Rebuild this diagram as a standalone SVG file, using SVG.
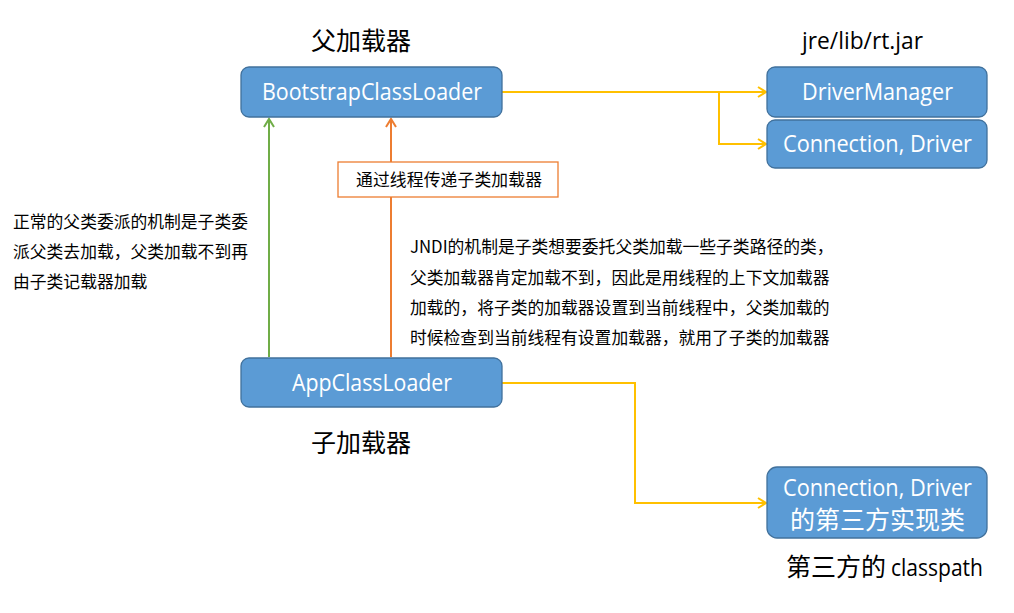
<svg xmlns="http://www.w3.org/2000/svg" width="1014" height="613" viewBox="0 0 1014 613">
<defs>
<style>
.box{fill:#5B9BD5;stroke:#41719C;stroke-width:1.3}
.bt{fill:#fff;font-family:"Open Sans","Noto Sans CJK SC",sans-serif;font-size:23px}
.bc{fill:#fff;font-family:"Noto Sans CJK SC",sans-serif;font-size:25px}
.t{fill:#000;font-family:"Noto Sans CJK SC",sans-serif;font-size:16.8px}
.h{fill:#000;font-family:"Noto Sans CJK SC",sans-serif;font-size:25px}
.hl{fill:#000;font-family:"Open Sans",sans-serif;font-size:23px}
.y{fill:none;stroke:#FFC000;stroke-width:2}
.g{fill:none;stroke:#70AD47;stroke-width:2}
.o{fill:none;stroke:#ED7D31;stroke-width:2}
</style>
<marker id="ay" markerWidth="12" markerHeight="12" refX="10" refY="6" orient="auto" markerUnits="userSpaceOnUse"><path d="M2,1 L10,6 L2,11" fill="none" stroke="#FFC000" stroke-width="2"/></marker>
<marker id="ag" markerWidth="12" markerHeight="12" refX="10" refY="6" orient="auto" markerUnits="userSpaceOnUse"><path d="M2,1 L10,6 L2,11" fill="none" stroke="#70AD47" stroke-width="2"/></marker>
<marker id="ao" markerWidth="12" markerHeight="12" refX="10" refY="6" orient="auto" markerUnits="userSpaceOnUse"><path d="M2,1 L10,6 L2,11" fill="none" stroke="#ED7D31" stroke-width="2"/></marker>
</defs>
<rect width="1014" height="613" fill="#fff"/>
<g id="connectors">
<path class="y" d="M502,92 H766" marker-end="url(#ay)"/>
<path class="y" d="M719,92 V144 H766" marker-end="url(#ay)"/>
<path class="y" d="M502,383 H635 V503 H766" marker-end="url(#ay)"/>
<path class="g" d="M269,357 V119" marker-end="url(#ag)"/>
<path class="o" d="M391,357 V119" marker-end="url(#ao)"/>
</g>
<g id="label-thread">
<rect x="338" y="162" width="220" height="35" fill="#fff" stroke="#ED7D31" stroke-width="1.3"/>
<text class="t" x="356" y="186" textLength="186">通过线程传递子类加载器</text>
</g>
<g id="bootstrap">
<rect class="box" x="241" y="67" width="261" height="50" rx="8"/>
<text class="bt" x="262" y="100" textLength="220" lengthAdjust="spacingAndGlyphs">BootstrapClassLoader</text>
</g>
<g id="drivermanager">
<rect class="box" x="767" y="67" width="220" height="50" rx="8"/>
<text class="bt" x="802" y="100" textLength="151" lengthAdjust="spacingAndGlyphs">DriverManager</text>
</g>
<g id="conn-driver">
<rect class="box" x="767" y="120" width="220" height="48" rx="8"/>
<text class="bt" x="783" y="152" textLength="189" lengthAdjust="spacingAndGlyphs">Connection, Driver</text>
</g>
<g id="appclassloader">
<rect class="box" x="241" y="358" width="261" height="49" rx="8"/>
<text class="bt" x="292" y="391" textLength="160" lengthAdjust="spacingAndGlyphs">AppClassLoader</text>
</g>
<g id="thirdparty">
<rect class="box" x="767" y="467" width="220" height="71" rx="10"/>
<text class="bt" x="783" y="496" textLength="189" lengthAdjust="spacingAndGlyphs">Connection, Driver</text>
<text class="bc" x="790" y="529" textLength="175" lengthAdjust="spacingAndGlyphs">的第三方实现类</text>
</g>
<g id="titles">
<text class="h" x="311" y="50">父加载器</text>
<text class="h" x="311" y="452">子加载器</text>
<text class="hl" x="802" y="49" textLength="121" lengthAdjust="spacingAndGlyphs">jre/lib/rt.jar</text>
<text class="h" x="786" y="576">第三方的</text>
<text class="hl" x="891" y="576" textLength="92" lengthAdjust="spacingAndGlyphs">classpath</text>
</g>
<g id="note-left">
<text class="t" x="13" y="228">正常的父类委派的机制是子类委</text>
<text class="t" x="13" y="258">派父类去加载，父类加载不到再</text>
<text class="t" x="13" y="288">由子类记载器加载</text>
</g>
<g id="note-jndi">
<text class="t" x="410" y="253">JNDI的机制是子类想要委托父类加载一些子类路径的类，</text>
<text class="t" x="410" y="284">父类加载器肯定加载不到，因此是用线程的上下文加载器</text>
<text class="t" x="410" y="314">加载的，将子类的加载器设置到当前线程中，父类加载的</text>
<text class="t" x="410" y="344">时候检查到当前线程有设置加载器，就用了子类的加载器</text>
</g>
</svg>
